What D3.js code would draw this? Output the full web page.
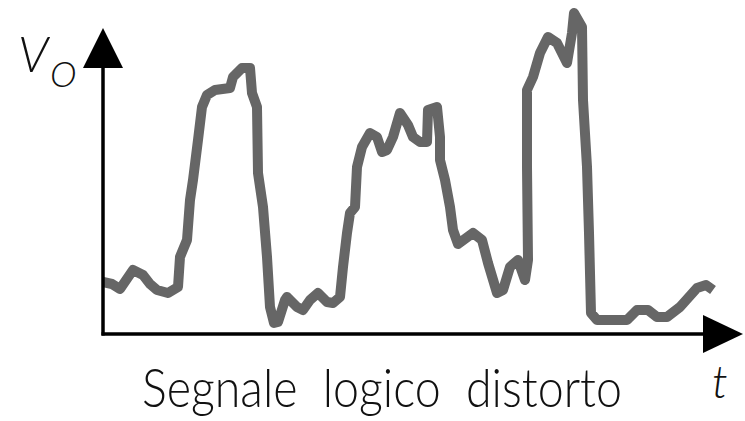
<!DOCTYPE html>
<html>
<head>
<meta charset="utf-8">
<script src="https://cdn.jsdelivr.net/npm/d3@7"></script>
<style>
  body { margin: 0; background: #fff; }
  svg { display: block; }
  text { white-space: pre; }
</style>
</head>
<body>
<svg class="chartSVG"></svg>
<script>
const svgWidth = 745;
const svgHeight = 421;

// time (arbitrary units) and output voltage Vo (arbitrary units)
const tValues = [0, 9, 17, 30, 40, 47, 54, 65, 75, 77, 84, 87, 90, 95, 99, 104, 112, 127, 130, 139,
  147, 149, 154, 155, 160, 164, 167, 171, 175, 182, 184, 194, 200, 207, 215, 224, 230, 237, 240, 244,
  247, 252, 254, 259, 267, 274, 279, 284, 290, 297, 305, 310, 317, 324, 325, 334, 337, 337, 342, 347,
  350, 355, 370, 379, 385, 394, 400, 407, 415, 422, 425, 424, 424, 430, 437, 445, 454, 464, 469, 471,
  479, 480, 484, 486, 488, 494, 524, 534, 545, 554, 564, 577, 594, 603, 610];
const voValues = [51, 49, 44, 63, 58, 49, 43, 40, 46, 76, 93, 133, 153, 193, 226, 238, 243, 245, 256, 265,
  265, 240, 226, 160, 126, 76, 26, 10, 11, 33, 36, 26, 23, 33, 40, 31, 30, 36, 66, 100,
  120, 126, 166, 186, 200, 196, 181, 183, 196, 220, 208, 196, 191, 191, 223, 226, 196, 173, 153, 126,
  103, 89, 100, 93, 70, 40, 43, 66, 73, 53, 73, 166, 243, 256, 280, 296, 290, 270, 300, 320,
  306, 233, 166, 100, 20, 13, 13, 23, 23, 16, 16, 26, 45, 48, 43];

const axisLabelY = "V";
const axisLabelYSub = "O";
const axisLabelX = "t";
const caption = "Segnale  logico  distorto";

const svg = d3.select('.chartSVG')
  .attr("width", svgWidth)
  .attr("height", svgHeight);

var origin = { x: 103, y: 334 };

var x = d3.scaleLinear()
  .domain([0, 640])
  .range([origin.x, 743]);

var y = d3.scaleLinear()
  .domain([0, 305])
  .range([origin.y - 1, 28]);

var data = tValues.map(function(t, i) { return { t: t, v: voValues[i] }; });

// signal
svg.append("path")
  .datum(data)
  .attr("fill", "none")
  .attr("stroke", "#666666")
  .attr("stroke-width", 10)
  .attr("stroke-linejoin", "round")
  .attr("stroke-linecap", "butt")
  .attr("d", d3.line()
    .x(function(d) { return x(d.t); })
    .y(function(d) { return y(d.v); }));

// axes with arrow heads
var tipX = x(640), tipY = y(305);
var headLen = 40, headHalf = 19;

svg.append("line")
  .attr("x1", origin.x - 1.5).attr("y1", origin.y)
  .attr("x2", tipX - headLen + 2).attr("y2", origin.y)
  .attr("stroke", "#000").attr("stroke-width", 3.5);

svg.append("line")
  .attr("x1", origin.x).attr("y1", origin.y + 1.5)
  .attr("x2", origin.x).attr("y2", tipY + headLen - 2)
  .attr("stroke", "#000").attr("stroke-width", 3.5);

svg.append("path")
  .attr("d", "M" + tipX + "," + origin.y +
    "L" + (tipX - headLen) + "," + (origin.y - headHalf) +
    "L" + (tipX - headLen) + "," + (origin.y + headHalf) + "Z")
  .attr("fill", "#000");

svg.append("path")
  .attr("d", "M" + origin.x + "," + tipY +
    "L" + (origin.x - headHalf - 1) + "," + (tipY + headLen) +
    "L" + (origin.x + headHalf + 1) + "," + (tipY + headLen) + "Z")
  .attr("fill", "#000");

// labels
var labelFont = "Lato, 'Open Sans', 'DejaVu Sans', sans-serif";

svg.append("text")
  .attr("x", 18)
  .attr("y", 72)
  .attr("font-family", labelFont)
  .attr("font-weight", 300)
  .attr("font-style", "italic")
  .attr("font-size", 50)
  .attr("fill", "#111")
  .text(axisLabelY);

svg.append("text")
  .attr("x", 50)
  .attr("y", 87)
  .attr("font-family", labelFont)
  .attr("font-weight", 300)
  .attr("font-style", "italic")
  .attr("font-size", 36)
  .attr("fill", "#111")
  .text(axisLabelYSub);

svg.append("text")
  .attr("x", 712)
  .attr("y", 398)
  .attr("font-family", labelFont)
  .attr("font-weight", 300)
  .attr("font-style", "italic")
  .attr("font-size", 46)
  .attr("fill", "#111")
  .text(axisLabelX);

svg.append("text")
  .attr("x", 142)
  .attr("y", 407)
  .attr("font-family", labelFont)
  .attr("font-weight", 300)
  .attr("font-size", 54)
  .attr("fill", "#111")
  .attr("textLength", 480)
  .attr("lengthAdjust", "spacingAndGlyphs")
  .text(caption);
</script>
</body>
</html>
